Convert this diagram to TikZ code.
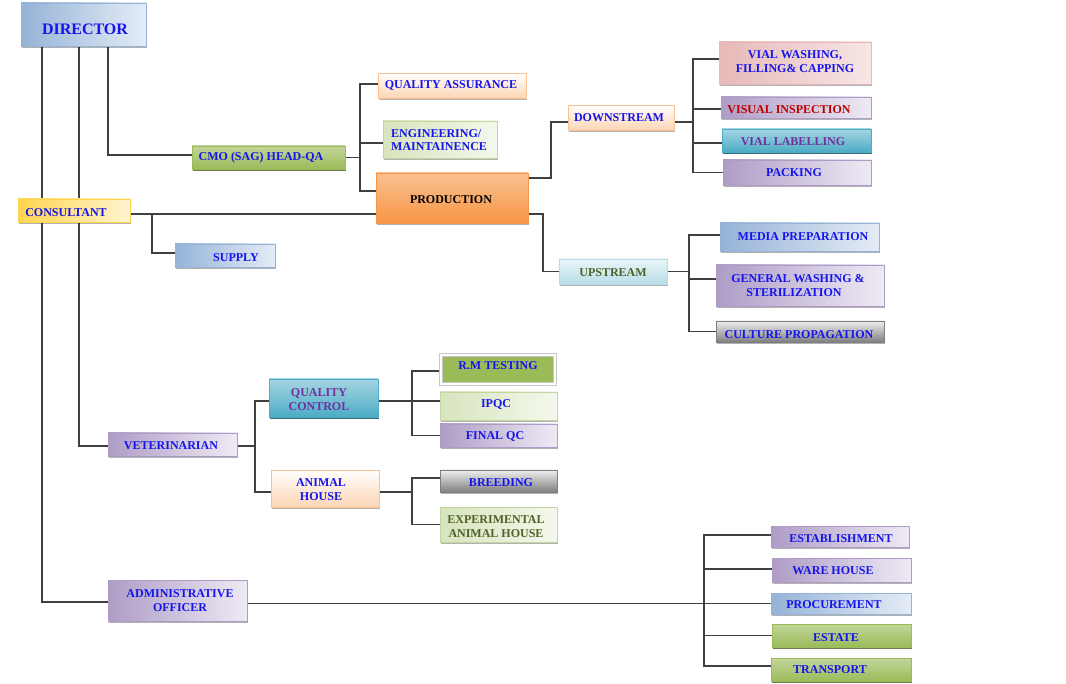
\documentclass[tikz,border=0pt]{standalone}
\usepackage{fontspec}
\setmainfont{Liberation Serif}
\usetikzlibrary{shadows,calc}
\pgfdeclarelayer{bg}
\pgfsetlayers{bg,main}
\definecolor{TBlue}{RGB}{20,20,235}
\definecolor{TRed}{HTML}{C00000}
\definecolor{TPur}{HTML}{7030A0}
\definecolor{TOlive}{HTML}{4F6228}
\definecolor{LineC}{HTML}{404040}
\definecolor{BlueD}{HTML}{95B3D7}
\definecolor{BlueL}{HTML}{E4ECF6}
\definecolor{PurD}{HTML}{AE9CC6}
\definecolor{PurL}{HTML}{EEEAF4}
\definecolor{PeachD}{HTML}{FCD5B4}
\definecolor{PeachB}{HTML}{FAC090}
\definecolor{GreenD}{HTML}{9BBB59}
\definecolor{GreenL}{HTML}{C3D69B}
\definecolor{GreenS}{HTML}{4F6228}
\definecolor{LGreenD}{HTML}{D7E4BD}
\definecolor{LGreenL}{HTML}{F4F8EC}
\definecolor{OrangeD}{HTML}{F79646}
\definecolor{OrangeL}{HTML}{FAC090}
\definecolor{YelD}{HTML}{FFD54F}
\definecolor{YelL}{HTML}{FFF4D0}
\definecolor{TealD}{HTML}{4BACC6}
\definecolor{TealL}{HTML}{A5D5E2}
\definecolor{TealS}{HTML}{215968}
\definecolor{PinkD}{HTML}{E6B9B8}
\definecolor{PinkL}{HTML}{F7E6E6}
\definecolor{GrayD}{HTML}{7F7F7F}
\definecolor{GrayL}{HTML}{EEEEEE}
\definecolor{CyanD}{HTML}{B7DEE8}
\definecolor{CyanL}{HTML}{E9F5F8}
\begin{document}
\begin{tikzpicture}[x=1pt,y=-1pt,
  bx/.style={rectangle, inner sep=0pt, outer sep=0pt, line width=0.7pt,
    drop shadow={shadow xshift=1.2pt,shadow yshift=-1.6pt,opacity=0.3,fill=black}},
  sblue/.style={bx, draw=BlueD, left color=BlueD, right color=BlueL},
  spur/.style={bx, draw=PurD, left color=PurD, right color=PurL},
  speach/.style={bx, draw=PeachB, top color=white, bottom color=PeachD},
  sgreen/.style={bx, draw=GreenD, top color=GreenL, bottom color=GreenD,
    drop shadow={shadow xshift=0.8pt,shadow yshift=-1.6pt,opacity=0.7,fill=GreenS}},
  slgreen/.style={bx, draw=GreenL, left color=LGreenD, right color=LGreenL},
  sorange/.style={bx, draw=OrangeD, top color=OrangeL, bottom color=OrangeD},
  syellow/.style={bx, draw=YelD, left color=YelD, right color=YelL},
  steal/.style={bx, draw=TealD, top color=TealL, bottom color=TealD,
    drop shadow={shadow xshift=0.8pt,shadow yshift=-1.6pt,opacity=0.8,fill=TealS}},
  spink/.style={bx, draw=PinkD, left color=PinkD, right color=PinkL},
  sgray/.style={bx, draw=GrayD, top color=GrayL, bottom color=GrayD},
  scyan/.style={bx, draw=CyanD, top color=CyanL, bottom color=CyanD},
  srm/.style={rectangle, inner sep=0pt, outer sep=0pt, fill=GreenD, draw=black!22,
    double=white, double distance=2.6pt, line width=0.6pt,
    drop shadow={shadow xshift=1.5pt,shadow yshift=-1.5pt,opacity=0.25,fill=black}},
  tx/.style={font=\bfseries\fontsize{12}{13.5}\selectfont, text=TBlue, inner sep=0pt, align=center, yshift=-1.5pt},
  conn/.style={draw=LineC, line width=1.1pt}
]
\useasboundingbox (0,0) rectangle (1066,684);
\begin{pgfonlayer}{bg}
\fill[white] (0,0) rectangle (1066,684);
\end{pgfonlayer}

% trunk x positions
\coordinate (t1) at (42,0);
\coordinate (t2) at (79,0);
\coordinate (t3) at (108,0);
\coordinate (b1) at (360,0);
\coordinate (b2) at (152,0);
\coordinate (b3) at (551,0);
\coordinate (b4) at (543,0);
\coordinate (b5) at (693,0);
\coordinate (b6) at (689,0);
\coordinate (b7) at (255,0);
\coordinate (b8) at (412,0);
\coordinate (b9) at (704,0);

% ---------- boxes ----------
\node[sblue, minimum width=125pt, minimum height=43pt] (director) at (83.5,24.5) {};
\node[syellow, minimum width=112pt, minimum height=23pt] (consultant) at (74,210.5) {};
\node[sgreen, minimum width=153pt, minimum height=23pt] (cmo) at (268.5,157.5) {};
\node[speach, minimum width=148pt, minimum height=25pt] (qa) at (452,85.5) {};
\node[slgreen, minimum width=114pt, minimum height=37pt] (eng) at (440,139.5) {};
\node[sorange, minimum width=152pt, minimum height=50pt] (prod) at (452,198) {};
\node[sblue, minimum width=100pt, minimum height=23pt] (supply) at (225,255.5) {};
\node[speach, minimum width=106pt, minimum height=25pt] (down) at (621,117.5) {};
\node[scyan, minimum width=108pt, minimum height=25pt] (up) at (613,271.5) {};
\node[spink, minimum width=152pt, minimum height=42pt] (vw) at (795,63) {};
\node[spur, minimum width=150pt, minimum height=21pt] (vi) at (796,107.5) {};
\node[steal, minimum width=149pt, minimum height=23pt] (vl) at (796.5,140.5) {};
\node[spur, minimum width=148pt, minimum height=25pt] (pk) at (797,172.5) {};
\node[sblue, minimum width=159pt, minimum height=28pt] (mp) at (799.5,237) {};
\node[spur, minimum width=168pt, minimum height=41pt] (gw) at (800,285.5) {};
\node[sgray, minimum width=168pt, minimum height=21pt] (cp) at (800,331.5) {};
\node[steal, minimum width=109pt, minimum height=38pt] (qc) at (323.5,398) {};
\node[srm, minimum width=114pt, minimum height=29pt] (rm) at (498,369.5) {};
\node[slgreen, minimum width=117pt, minimum height=28pt] (ipqc) at (498.5,406) {};
\node[spur, minimum width=117pt, minimum height=23pt] (fqc) at (498.5,435.5) {};
\node[spur, minimum width=129pt, minimum height=23pt] (vet) at (172.5,444.5) {};
\node[speach, minimum width=108pt, minimum height=37pt] (ah) at (325,488.5) {};
\node[sgray, minimum width=117pt, minimum height=22pt] (br) at (498.5,481) {};
\node[slgreen, minimum width=117pt, minimum height=35pt] (exp) at (498.5,524.5) {};
\node[spur, minimum width=139pt, minimum height=41pt] (adm) at (177.5,600.5) {};
\node[spur, minimum width=138pt, minimum height=21pt] (est) at (840,536.5) {};
\node[spur, minimum width=139pt, minimum height=24pt] (wh) at (841.5,570) {};
\node[sblue, minimum width=140pt, minimum height=21pt] (proc) at (841,603.5) {};
\node[sgreen, minimum width=139pt, minimum height=23pt] (estate) at (841.5,635.5) {};
\node[sgreen, minimum width=140pt, minimum height=23pt] (tr) at (841,669.5) {};

% ---------- connectors ----------
\begin{pgfonlayer}{bg}
\draw[conn] (director.south -| t1) |- ([yshift=-1.5pt]adm.west);
\draw[conn] (director.south -| t2) |- ([yshift=-1.5pt]vet.west);
\draw[conn] (director.south -| t3) |- ([yshift=2.5pt]cmo.west);

% CMO bus
\draw[conn] (cmo.east) -- (cmo.east -| b1);
\draw[conn] ([yshift=1.5pt]qa.west) -| ([yshift=7pt]prod.west -| b1) -- ([yshift=7pt]prod.west);
\draw[conn] ([yshift=-3.5pt]eng.west) -- ([yshift=-3.5pt]eng.west -| b1);

% consultant to production and supply
\coordinate (cl) at ([yshift=-3.5pt]consultant.east);
\draw[conn] (cl) -- (cl -| prod.west);
\draw[conn] (cl -| b2) |- ([yshift=2.5pt]supply.west);

% production to downstream / upstream
\coordinate (p1) at ([yshift=20pt]prod.east);
\coordinate (p2) at ([yshift=-16pt]prod.east);
\draw[conn] (p1) -- (p1 -| b3) |- ([yshift=-4.5pt]down.west);
\draw[conn] (p2) -- (p2 -| b4) |- (up.west);

% downstream bus
\coordinate (d2) at ([yshift=-4.5pt]down.east);
\draw[conn] (d2) -- (d2 -| b5);
\draw[conn] ([yshift=4pt]vw.west) -| (pk.west -| b5) -- (pk.west);
\draw[conn] ([yshift=-1.5pt]vi.west) -- ([yshift=-1.5pt]vi.west -| b5);
\draw[conn] ([yshift=-2.5pt]vl.west) -- ([yshift=-2.5pt]vl.west -| b5);

% upstream bus
\draw[conn] (up.east) -- (up.east -| b6);
\draw[conn] ([yshift=2pt]mp.west) -| (cp.west -| b6) -- (cp.west);
\draw[conn] ([yshift=6.5pt]gw.west) -- ([yshift=6.5pt]gw.west -| b6);

% veterinarian bus
\draw[conn] ([yshift=-1.5pt]vet.east) -- ([yshift=-1.5pt]vet.east -| b7);
\draw[conn] ([yshift=-3pt]qc.west) -| ([yshift=-3.5pt]ah.west -| b7) -- ([yshift=-3.5pt]ah.west);

% quality control bus
\draw[conn] ([yshift=-3pt]qc.east) -- ([yshift=-3pt]qc.east -| ipqc.west);
\draw[conn] ([yshift=-1.5pt]rm.west) -| (fqc.west -| b8) -- (fqc.west);

% animal house bus
\draw[conn] ([yshift=-3.5pt]ah.east) -- ([yshift=-3.5pt]ah.east -| b8);
\draw[conn] ([yshift=3pt]br.west) -| (exp.west -| b8) -- (exp.west);

% administrative bus
\draw[conn] (adm.east |- proc.west) -- (proc.west);
\draw[conn] ([yshift=1.5pt]est.west) -| ([yshift=3.5pt]tr.west -| b9) -- ([yshift=3.5pt]tr.west);
\draw[conn] ([yshift=1pt]wh.west) -- ([yshift=1pt]wh.west -| b9);
\draw[conn] (estate.west) -- (estate.west -| b9);
\end{pgfonlayer}

% ---------- texts ----------
\node[tx, font=\bfseries\fontsize{16}{18}\selectfont] (director-t) at (85,28) {DIRECTOR};
\node[tx] (consultant-t) at (66,211) {CONSULTANT};
\node[tx] (cmo-t) at (261,156) {CMO (SAG) HEAD-QA};
\node[tx] (qa-t) at (451,84) {QUALITY ASSURANCE};
\node[tx, align=left, anchor=west] (eng-t) at (391,138.5) {ENGINEERING/\\MAINTAINENCE};
\node[tx, text=black] (prod-t) at (451,198) {PRODUCTION};
\node[tx] (supply-t) at (236,256) {SUPPLY};
\node[tx] (down-t) at (619,116) {DOWNSTREAM};
\node[tx, text=TOlive] (up-t) at (613,271) {UPSTREAM};
\node[tx] (vw-t) at (795,60) {VIAL WASHING,\\FILLING\& CAPPING};
\node[tx, text=TRed] (vi-t) at (789,108) {VISUAL INSPECTION};
\node[tx, text=TPur] (vl-t) at (793,140) {VIAL LABELLING};
\node[tx] (pk-t) at (794,171) {PACKING};
\node[tx] (mp-t) at (803,235) {MEDIA PREPARATION};
\node[tx] (gw-t) at (798,284) {GENERAL WASHING \&\\\hspace*{-8pt}STERILIZATION};
\node[tx] (cp-t) at (799,333) {CULTURE PROPAGATION};
\node[tx, text=TPur] (qc-t) at (319,398) {QUALITY\\CONTROL};
\node[tx] (rm-t) at (498,364) {R.M TESTING};
\node[tx] (ipqc-t) at (496,403) {IPQC};
\node[tx] (fqc-t) at (495,435) {FINAL QC};
\node[tx] (vet-t) at (171,444) {VETERINARIAN};
\node[tx] (ah-t) at (321,488) {ANIMAL\\HOUSE};
\node[tx] (br-t) at (501,481) {BREEDING};
\node[tx, text=TOlive] (exp-t) at (496,525) {EXPERIMENTAL\\ANIMAL HOUSE};
\node[tx] (adm-t) at (180,599) {ADMINISTRATIVE\\OFFICER};
\node[tx] (est-t) at (841,537) {ESTABLISHMENT};
\node[tx] (wh-t) at (833,569) {WARE HOUSE};
\node[tx] (proc-t) at (834,603) {PROCUREMENT};
\node[tx] (estate-t) at (836,636) {ESTATE};
\node[tx] (tr-t) at (830,668) {TRANSPORT};
\end{tikzpicture}
\end{document}
